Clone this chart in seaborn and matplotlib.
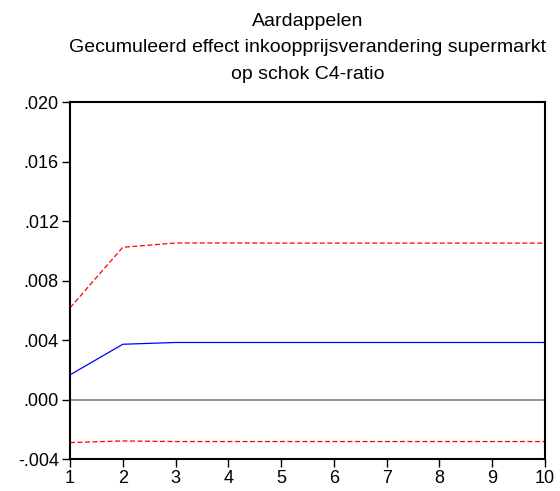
import numpy as np
import pandas as pd
import matplotlib
matplotlib.use('Agg')
import matplotlib.pyplot as plt
import seaborn as sns

# Data
periode = [1, 2, 3, 4, 5, 6, 7, 8, 9, 10]
effect = [0.00166, 0.00372, 0.00384, 0.00384, 0.00384, 0.00384, 0.00384, 0.00384, 0.00384, 0.00384]
boven = [0.00617, 0.01024, 0.01053, 0.01053, 0.01052, 0.01052, 0.01052, 0.01052, 0.01052, 0.01052]
onder = [-0.00289, -0.00278, -0.00282, -0.00282, -0.00282, -0.00282, -0.00282, -0.00282, -0.00282, -0.00282]
yticks = [-0.004, 0.000, 0.004, 0.008, 0.012, 0.016, 0.020]
ylabels = ['-.004', '.000', '.004', '.008', '.012', '.016', '.020']

df = pd.DataFrame({'periode': periode, 'effect': effect, 'boven': boven, 'onder': onder})

sns.set_theme(style='white')
plt.rcParams['font.family'] = ['Liberation Sans', 'DejaVu Sans']

fig = plt.figure(figsize=(5.6, 4.91), dpi=100)
ax = fig.add_axes([0.125, 0.065, 0.848, 0.727])

ax.axhline(0, color='#808080', lw=1.2, zorder=1)
sns.lineplot(data=df, x='periode', y='effect', ax=ax, color='blue', lw=0.9)
sns.lineplot(data=df, x='periode', y='boven', ax=ax, color='red', lw=0.9, linestyle=(0, (4, 2)))
sns.lineplot(data=df, x='periode', y='onder', ax=ax, color='red', lw=0.9, linestyle=(0, (4, 2)))

ax.set_xlim(1, 10)
ax.set_ylim(-0.004, 0.020)
ax.set_xticks(periode)
ax.set_yticks(yticks)
ax.set_yticklabels(ylabels)
ax.set_xlabel('')
ax.set_ylabel('')
ax.tick_params(axis='both', direction='out', length=5.5, width=1, color='black',
               labelsize=13, labelcolor='black', left=True, bottom=True, pad=2.5)
for s in ax.spines.values():
    s.set_color('black')
    s.set_linewidth(1.5)

ax.set_title('Aardappelen\nGecumuleerd effect inkoopprijsverandering supermarkt\nop schok C4-ratio',
             fontsize=14, linespacing=1.72, pad=17, color='black')

fig.savefig('out.png', dpi=100)
